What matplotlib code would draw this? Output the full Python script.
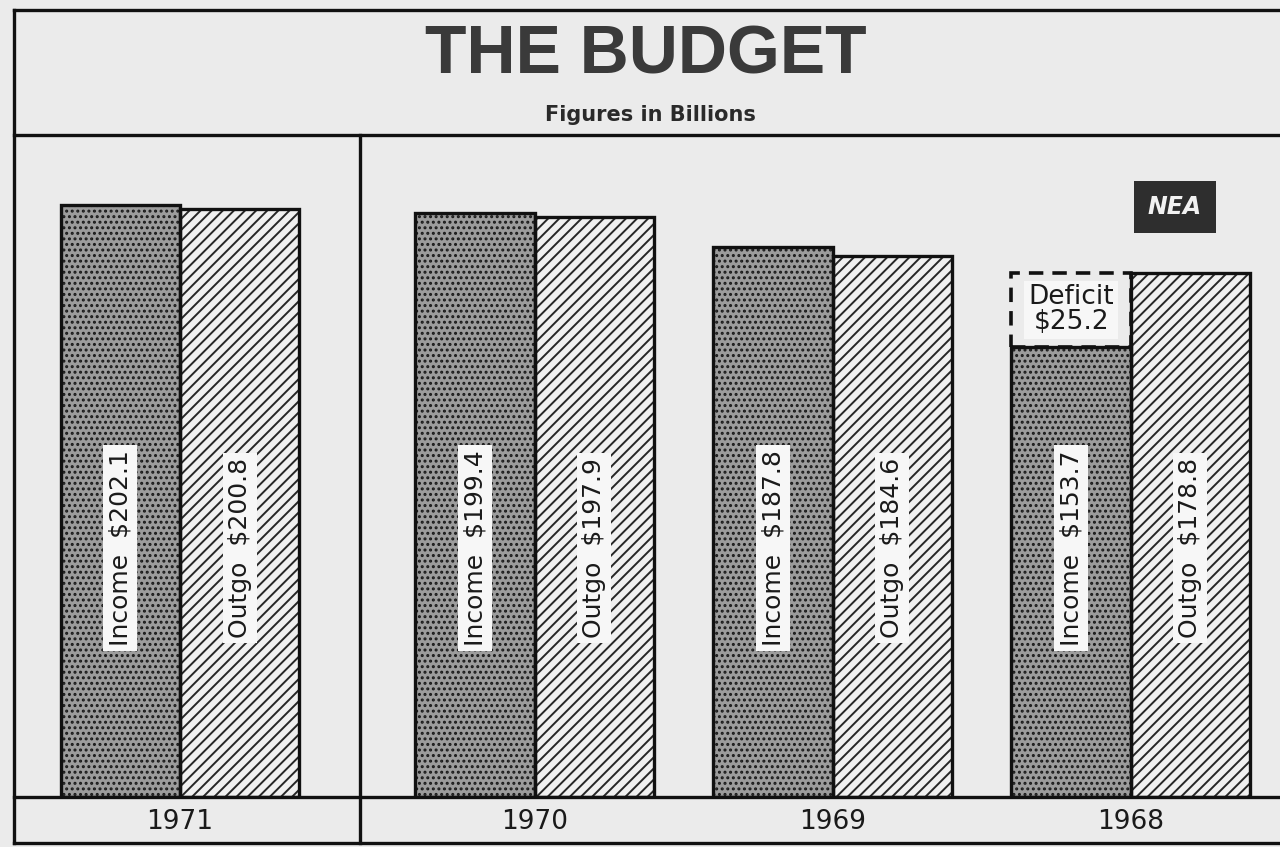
import matplotlib
matplotlib.use("Agg")
import matplotlib.pyplot as plt
from matplotlib.lines import Line2D
from matplotlib.transforms import blended_transform_factory

# ---- data ----
years = ["1971", "1970", "1969", "1968"]
income = [202.1, 199.4, 187.8, 153.7]
outgo = [200.8, 197.9, 184.6, 178.8]
deficit_year = "1968"
deficit_label = [25.2]

W, H = 1280, 847
DPI = 100
BG = "#ebebeb"
fig = plt.figure(figsize=(W / DPI, H / DPI), dpi=DPI, facecolor=BG)

def fx(px):
    return px / W

def fy(py):
    return (H - py) / H

# main plotting axes (pixel layout)
ax = fig.add_axes([fx(14), fy(797), 1 - fx(14), fy(137) - fy(797)])
ax.set_facecolor(BG)
ax.axis("off")

pos = [0.0, 1.19, 2.19, 3.19]
bw = 0.40
ax.set_xlim(-0.557, 3.691)
ax.set_ylim(0, 225.3)

plt.rcParams["hatch.linewidth"] = 1.4

inc_x = [p - bw / 2 for p in pos]
out_x = [p + bw / 2 for p in pos]

# fills (hatch colour comes from edgecolor)
ax.bar(inc_x, income, width=bw, facecolor="#9c9c9c", edgecolor="#1a1a1a",
       hatch="...", linewidth=0, zorder=2)
ax.bar(out_x, outgo, width=bw, facecolor="#f0f0f0", edgecolor="#262626",
       hatch="///", linewidth=0, zorder=2)
# outlines
ax.bar(inc_x, income, width=bw, fill=False, edgecolor="#111111",
       linewidth=2.4, zorder=3)
ax.bar(out_x, outgo, width=bw, fill=False, edgecolor="#111111",
       linewidth=2.4, zorder=3)

# deficit dashed box
di = years.index(deficit_year)
ax.bar(inc_x[di], outgo[di] - income[di], bottom=income[di], width=bw,
       facecolor=BG, edgecolor="#111111", linewidth=2.6, linestyle=(0, (4, 2.5)),
       zorder=2.5)
ax.text(inc_x[di], income[di] + (outgo[di] - income[di]) / 2,
        f"Deficit\n${deficit_label[0]:.1f}", ha="center", va="center",
        fontsize=19, color="#1a1a1a", linespacing=0.95, zorder=5,
        bbox=dict(boxstyle="square,pad=0.15", facecolor="#f7f7f7", edgecolor="none"))

label_y = 85
box = dict(boxstyle="square,pad=0.2", facecolor="#f7f7f7", edgecolor="none")
for i in range(len(years)):
    ax.text(inc_x[i], label_y, f"Income  ${income[i]:.1f}", rotation=90,
            ha="center", va="center", fontsize=18, color="#1a1a1a",
            bbox=box, zorder=5)
    ax.text(out_x[i], label_y, f"Outgo  ${outgo[i]:.1f}", rotation=90,
            ha="center", va="center", fontsize=18, color="#1a1a1a",
            bbox=box, zorder=5)

# year labels under groups
trans = blended_transform_factory(ax.transData, fig.transFigure)
for i, yr in enumerate(years):
    ax.text(pos[i], fy(822), yr, transform=trans, ha="center", va="center",
            fontsize=19, color="#1a1a1a", clip_on=False)

# frame lines
def hline(py, x0, x1, lw=2.4):
    fig.add_artist(Line2D([fx(x0), fx(x1)], [fy(py), fy(py)],
                          transform=fig.transFigure, color="#111111", lw=lw))

def vline(px, y0, y1, lw=2.4):
    fig.add_artist(Line2D([fx(px), fx(px)], [fy(y0), fy(y1)],
                          transform=fig.transFigure, color="#111111", lw=lw))

hline(10, 14, 1280)
hline(135, 14, 1280)
hline(797, 14, 1280)
hline(843, 14, 1280)
vline(14, 10, 843)
vline(360, 135, 843)

# titles
fig.text(fx(646), fy(56), "THE BUDGET", ha="center", va="center",
         fontsize=49, fontweight="bold", family="Liberation Sans", color="#3a3a3a")
fig.text(fx(650), fy(115), "Figures in Billions", ha="center", va="center",
         fontsize=15, fontweight="bold", color="#2a2a2a")

# NEA badge
fig.text(fx(1175), fy(207), "NEA", ha="center", va="center", fontsize=17,
         fontweight="bold", fontstyle="italic", color="#f2f2f2",
         bbox=dict(boxstyle="square,pad=0.6", facecolor="#2e2e2e", edgecolor="none"))

fig.savefig("out.png", dpi=DPI, facecolor=BG)
